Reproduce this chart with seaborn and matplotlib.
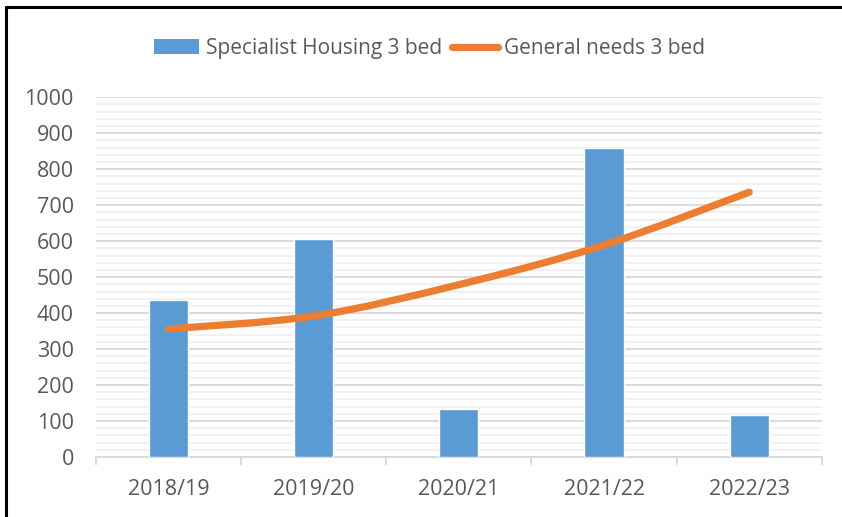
import matplotlib

matplotlib.use("Agg")
import matplotlib.pyplot as plt
import numpy as np
import pandas as pd
import seaborn as sns
from matplotlib.lines import Line2D
from matplotlib.patches import Patch, PathPatch
from matplotlib.path import Path
from matplotlib.ticker import MultipleLocator, FixedLocator

years = ["2018/19", "2019/20", "2020/21", "2021/22", "2022/23"]
specialist_3bed = [436, 606, 134, 858, 117]
general_3bed = [356, 392, 479, 589, 736]

BLUE = "#5B9BD5"
ORANGE = "#ED7D31"
TEXT = "#595959"

sns.set_theme(style="white")
plt.rcParams["font.family"] = ["Open Sans", "DejaVu Sans"]


def smooth_path(xs, ys):
    # Excel-like smoothed line: cubic bezier segments through each point
    xs = np.asarray(xs, dtype=float)
    ys = np.asarray(ys, dtype=float)
    n = len(xs)
    verts = [(xs[0], ys[0])]
    codes = [Path.MOVETO]
    for i in range(n - 1):
        p0 = (xs[max(i - 1, 0)], ys[max(i - 1, 0)])
        p1 = (xs[i], ys[i])
        p2 = (xs[i + 1], ys[i + 1])
        p3 = (xs[min(i + 2, n - 1)], ys[min(i + 2, n - 1)])
        t = 1 / 6
        c1 = (p1[0] + (p2[0] - p0[0]) * t, p1[1] + (p2[1] - p0[1]) * t)
        c2 = (p2[0] - (p3[0] - p1[0]) * t, p2[1] - (p3[1] - p1[1]) * t)
        verts += [c1, c2, p2]
        codes += [Path.CURVE4] * 3
    return Path(verts, codes)


df = pd.DataFrame({"year": years, "specialist": specialist_3bed})

fig = plt.figure(figsize=(8.42, 5.17), dpi=100)
ax = fig.add_axes([0.114, 0.116, 0.862, 0.696])

sns.barplot(data=df, x="year", y="specialist", color=BLUE, saturation=1,
            width=0.27, ax=ax, zorder=3)

line_path = smooth_path(np.arange(len(years)), general_3bed)
ax.add_patch(PathPatch(line_path, transform=ax.transData, facecolor="none",
                       edgecolor=ORANGE, lw=5.2, capstyle="round",
                       joinstyle="round", zorder=4))

ax.set_ylim(0, 1000)
ax.set_xlim(-0.5, len(years) - 0.5)
ax.yaxis.set_major_locator(MultipleLocator(100))
ax.yaxis.set_minor_locator(MultipleLocator(20))
ax.grid(axis="y", which="major", color="#d9d9d9", lw=1.3, zorder=0)
ax.grid(axis="y", which="minor", color="#f0f0f0", lw=1.3, zorder=0)
ax.set_axisbelow(True)

ax.xaxis.set_minor_locator(FixedLocator(np.arange(-0.5, len(years), 1.0)))
ax.tick_params(axis="x", which="minor", length=6, color="#d9d9d9", width=1.3,
               direction="out", bottom=True)
ax.tick_params(axis="x", which="major", length=0, pad=15.5, labelsize=15.5,
               labelcolor=TEXT)
ax.tick_params(axis="y", which="both", length=0, pad=16, labelsize=15.5,
               labelcolor=TEXT)

for side in ["top", "right", "left"]:
    ax.spines[side].set_visible(False)
ax.spines["bottom"].set_color("#d9d9d9")
ax.spines["bottom"].set_linewidth(1.3)
ax.set_xlabel("")
ax.set_ylabel("")

handles = [
    Patch(facecolor=BLUE, edgecolor="none"),
    Line2D([0], [0], color=ORANGE, lw=5.2, solid_capstyle="round"),
]
fig.legend(handles, ["Specialist Housing 3 bed", "General needs 3 bed"],
           loc="center", bbox_to_anchor=(0.51, 0.906), ncol=2, frameon=False,
           fontsize=15, labelcolor=TEXT, handlelength=2.2, handleheight=0.75,
           handletextpad=0.3, columnspacing=0.5)

# black frame lines on the left and top of the image
fig.add_artist(Line2D([6 / 842, 6 / 842], [0, 1 - 7 / 517], color="black",
                      lw=2.2, transform=fig.transFigure))
fig.add_artist(Line2D([6 / 842, 1], [1 - 7 / 517, 1 - 7 / 517], color="black",
                      lw=2.2, transform=fig.transFigure))

fig.savefig("out.png", dpi=100)
